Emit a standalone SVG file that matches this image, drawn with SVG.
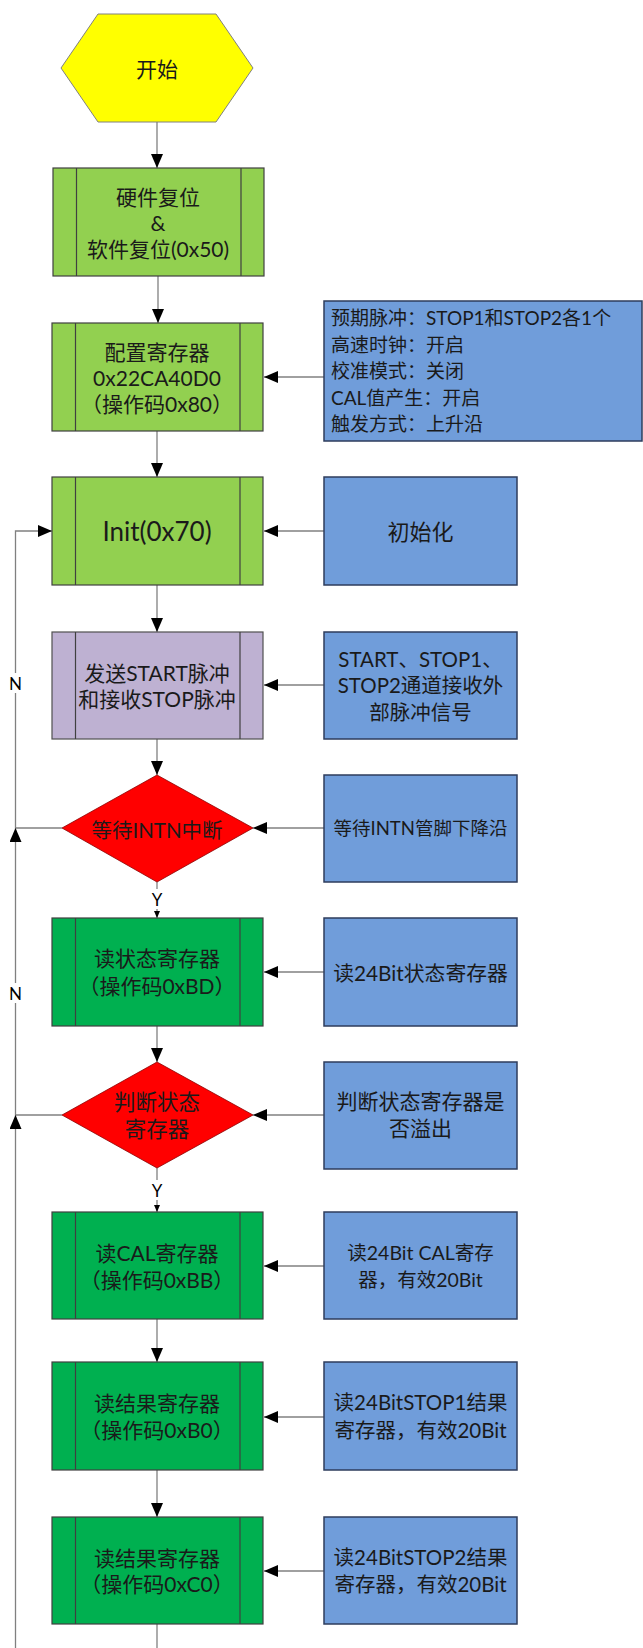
<svg xmlns="http://www.w3.org/2000/svg" width="643" height="1648" viewBox="0 0 643 1648">
<style>
.bg{fill:#ffffff}
.hex{fill:#FFFF00;stroke:#808080;stroke-width:1}
.lg{fill:#92D050;stroke:#404040;stroke-width:1.2}
.dg{fill:#00B050;stroke:#404040;stroke-width:1.2}
.pu{fill:#BEB1D2;stroke:#505050;stroke-width:1.2}
.bl{fill:#709DDA;stroke:#2E3D5C;stroke-width:1.5}
.rd{fill:#FF0000;stroke:#8B0000;stroke-width:0.8}
.il{stroke:#404040;stroke-width:1.2}
.conn{stroke:#808080;stroke-width:1.3;fill:none}
.t{font-family:"Lato","Noto Sans CJK SC",sans-serif;font-size:21px;fill:#1a1a1a;text-anchor:middle;dominant-baseline:central}
.tb{font-family:"Lato","Noto Sans CJK SC",sans-serif;font-size:20.5px;fill:#1a1a1a;text-anchor:middle;dominant-baseline:central}
.tl{font-family:"Lato","Noto Sans CJK SC",sans-serif;font-size:19px;fill:#1a1a1a;text-anchor:start;dominant-baseline:central}
.lab{font-family:"Lato","Liberation Sans",sans-serif;font-size:17px;fill:#000;text-anchor:middle;dominant-baseline:central}
</style>
<defs>
<marker id="ah" markerUnits="userSpaceOnUse" markerWidth="14" markerHeight="12" refX="14" refY="6" orient="auto">
<path d="M0,0 L14,6 L0,12 z" fill="#000"/>
</marker>
<marker id="ahs" markerUnits="userSpaceOnUse" markerWidth="7" markerHeight="6" refX="7" refY="3" orient="auto">
<path d="M0,0 L7,3 L0,6 z" fill="#000"/>
</marker>
</defs>
<rect class="bg" x="0" y="0" width="643" height="1648"/>

<g id="connectors">
<line class="conn" x1="157" y1="122" x2="157" y2="168" marker-end="url(#ah)"/>
<line class="conn" x1="158" y1="276" x2="158" y2="323" marker-end="url(#ah)"/>
<line class="conn" x1="324" y1="377" x2="264" y2="377" marker-end="url(#ah)"/>
<line class="conn" x1="157" y1="431" x2="157" y2="477" marker-end="url(#ah)"/>
<line class="conn" x1="324" y1="531" x2="264" y2="531" marker-end="url(#ah)"/>
<line class="conn" x1="157" y1="585" x2="157" y2="632" marker-end="url(#ah)"/>
<line class="conn" x1="324" y1="685" x2="264" y2="685" marker-end="url(#ah)"/>
<line class="conn" x1="157" y1="739" x2="157" y2="775" marker-end="url(#ah)"/>
<line class="conn" x1="324" y1="828" x2="253" y2="828" marker-end="url(#ah)"/>
<line class="conn" x1="157" y1="882" x2="157" y2="918" marker-end="url(#ahs)"/>
<line class="conn" x1="324" y1="972" x2="264" y2="972" marker-end="url(#ah)"/>
<line class="conn" x1="157" y1="1026" x2="157" y2="1062" marker-end="url(#ah)"/>
<line class="conn" x1="324" y1="1115" x2="253" y2="1115" marker-end="url(#ah)"/>
<line class="conn" x1="157" y1="1168" x2="157" y2="1212" marker-end="url(#ahs)"/>
<line class="conn" x1="324" y1="1266" x2="264" y2="1266" marker-end="url(#ah)"/>
<line class="conn" x1="157" y1="1319" x2="157" y2="1362" marker-end="url(#ah)"/>
<line class="conn" x1="324" y1="1417" x2="264" y2="1417" marker-end="url(#ah)"/>
<line class="conn" x1="157" y1="1470" x2="157" y2="1517" marker-end="url(#ah)"/>
<line class="conn" x1="324" y1="1571" x2="264" y2="1571" marker-end="url(#ah)"/>
<line class="conn" x1="157" y1="1624" x2="157" y2="1648"/>
<polyline class="conn" points="62,828 15.5,828"/>
<polyline class="conn" points="62,1115 15.5,1115"/>
<polyline class="conn" points="15.5,1648 15.5,1115" marker-end="url(#ah)"/>
<polyline class="conn" points="15.5,1115 15.5,828" marker-end="url(#ah)"/>
<polyline class="conn" points="15.5,828 15.5,531 52,531" marker-end="url(#ah)"/>
<rect x="8" y="673" width="15" height="20" fill="#fff"/>
<text class="lab" x="15.5" y="683">N</text>
<rect x="8" y="983" width="15" height="20" fill="#fff"/>
<text class="lab" x="15.5" y="993">N</text>
<rect x="150" y="889" width="14" height="20" fill="#fff"/>
<text class="lab" x="157" y="899">Y</text>
<rect x="150" y="1180" width="14" height="20" fill="#fff"/>
<text class="lab" x="157" y="1190">Y</text>
</g>

<g id="start">
<polygon class="hex" points="98,14 216,14 253,68 216,122 98,122 61,68"/>
<text class="t" x="157" y="68">开始</text>
</g>

<g id="reset">
<rect class="lg" x="53" y="168" width="211" height="108"/>
<line class="il" x1="76.5" y1="168" x2="76.5" y2="276"/>
<line class="il" x1="241" y1="168" x2="241" y2="276"/>
<text class="t" x="158" y="196">硬件复位</text>
<text class="t" x="158" y="222">&amp;</text>
<text class="t" x="158" y="248">软件复位(0x50)</text>
</g>

<g id="config">
<rect class="lg" x="52" y="323" width="211" height="108"/>
<line class="il" x1="75.5" y1="323" x2="75.5" y2="431"/>
<line class="il" x1="240" y1="323" x2="240" y2="431"/>
<text class="t" x="157" y="351">配置寄存器</text>
<text class="t" x="157" y="377">0x22CA40D0</text>
<text class="t" x="157" y="403">（操作码0x80）</text>
</g>

<g id="config-note">
<rect class="bl" x="324" y="301" width="318" height="140"/>
<text class="tl" x="331" y="317">预期脉冲：STOP1和STOP2各1个</text>
<text class="tl" x="331" y="344">高速时钟：开启</text>
<text class="tl" x="331" y="370.5">校准模式：关闭</text>
<text class="tl" x="331" y="397">CAL值产生：开启</text>
<text class="tl" x="331" y="423.5">触发方式：上升沿</text>
</g>

<g id="init">
<rect class="lg" x="52" y="477" width="211" height="108"/>
<line class="il" x1="75.5" y1="477" x2="75.5" y2="585"/>
<line class="il" x1="240" y1="477" x2="240" y2="585"/>
<text class="t" x="157" y="531" style="font-size:26px">Init(0x70)</text>
</g>

<g id="init-note">
<rect class="bl" x="324" y="477" width="193" height="108"/>
<text class="tb" x="420.5" y="531" style="font-size:22px">初始化</text>
</g>

<g id="pulse">
<rect class="pu" x="52" y="632" width="211" height="107"/>
<line class="il" x1="75.5" y1="632" x2="75.5" y2="739"/>
<line class="il" x1="240" y1="632" x2="240" y2="739"/>
<text class="t" x="157" y="672">发送START脉冲</text>
<text class="t" x="157" y="698.5">和接收STOP脉冲</text>
</g>

<g id="pulse-note">
<rect class="bl" x="324" y="632" width="193" height="107"/>
<text class="tb" x="420.5" y="658.5">START、STOP1、</text>
<text class="tb" x="420.5" y="685">STOP2通道接收外</text>
<text class="tb" x="420.5" y="711.5">部脉冲信号</text>
</g>

<g id="wait-intn">
<polygon class="rd" points="157,775 253,828 157,882 62,828"/>
<text class="tb" x="157" y="830">等待INTN中断</text>
</g>

<g id="wait-note">
<rect class="bl" x="324" y="775" width="193" height="107"/>
<text class="tb" x="420.5" y="828" style="font-size:18.5px">等待INTN管脚下降沿</text>
</g>

<g id="read-status">
<rect class="dg" x="52" y="918" width="211" height="108"/>
<line class="il" x1="75.5" y1="918" x2="75.5" y2="1026"/>
<line class="il" x1="240" y1="918" x2="240" y2="1026"/>
<text class="t" x="157" y="957.5">读状态寄存器</text>
<text class="t" x="157" y="985">（操作码0xBD）</text>
</g>

<g id="read-status-note">
<rect class="bl" x="324" y="918" width="193" height="108"/>
<text class="tb" x="420.5" y="972" style="font-size:20.8px">读24Bit状态寄存器</text>
</g>

<g id="check-status">
<polygon class="rd" points="157,1062 253,1115 157,1168 62,1115"/>
<text class="tb" x="157" y="1102" style="font-size:21.5px">判断状态</text>
<text class="tb" x="157" y="1128.5" style="font-size:21.5px">寄存器</text>
</g>

<g id="check-note">
<rect class="bl" x="324" y="1062" width="193" height="107"/>
<text class="tb" x="420.5" y="1100" style="font-size:21px">判断状态寄存器是</text>
<text class="tb" x="420.5" y="1127.5" style="font-size:21px">否溢出</text>
</g>

<g id="read-cal">
<rect class="dg" x="52" y="1212" width="211" height="107"/>
<line class="il" x1="75.5" y1="1212" x2="75.5" y2="1319"/>
<line class="il" x1="240" y1="1212" x2="240" y2="1319"/>
<text class="t" x="157" y="1252">读CAL寄存器</text>
<text class="t" x="157" y="1279">（操作码0xBB）</text>
</g>

<g id="read-cal-note">
<rect class="bl" x="324" y="1212" width="193" height="107"/>
<text class="tb" x="420.5" y="1252" style="font-size:19.5px">读24Bit CAL寄存</text>
<text class="tb" x="420.5" y="1279" style="font-size:19.5px">器，有效20Bit</text>
</g>

<g id="read-stop1">
<rect class="dg" x="52" y="1362" width="211" height="108"/>
<line class="il" x1="75.5" y1="1362" x2="75.5" y2="1470"/>
<line class="il" x1="240" y1="1362" x2="240" y2="1470"/>
<text class="t" x="157" y="1402">读结果寄存器</text>
<text class="t" x="157" y="1429.5">（操作码0xB0）</text>
</g>

<g id="read-stop1-note">
<rect class="bl" x="324" y="1362" width="193" height="108"/>
<text class="tb" x="420.5" y="1402">读24BitSTOP1结果</text>
<text class="tb" x="420.5" y="1429.5">寄存器，有效20Bit</text>
</g>

<g id="read-stop2">
<rect class="dg" x="52" y="1517" width="211" height="107"/>
<line class="il" x1="75.5" y1="1517" x2="75.5" y2="1624"/>
<line class="il" x1="240" y1="1517" x2="240" y2="1624"/>
<text class="t" x="157" y="1557">读结果寄存器</text>
<text class="t" x="157" y="1583.5">（操作码0xC0）</text>
</g>

<g id="read-stop2-note">
<rect class="bl" x="324" y="1517" width="193" height="107"/>
<text class="tb" x="420.5" y="1557">读24BitSTOP2结果</text>
<text class="tb" x="420.5" y="1583.5">寄存器，有效20Bit</text>
</g>
</svg>
